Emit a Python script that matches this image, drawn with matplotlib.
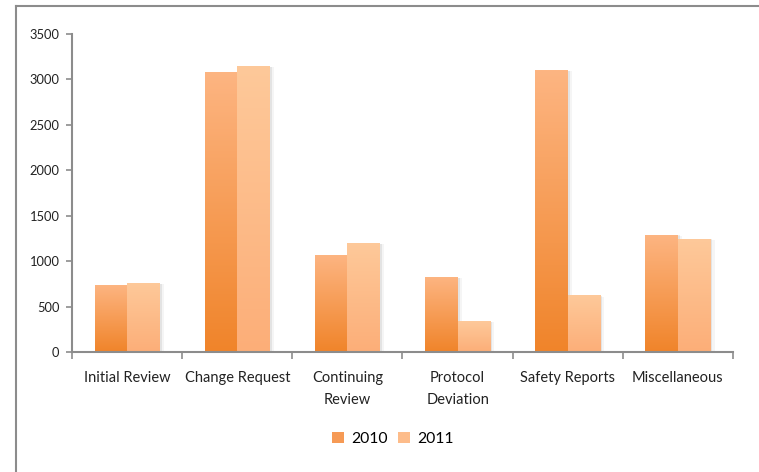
import numpy as np
import matplotlib
matplotlib.use("Agg")
import matplotlib.pyplot as plt
import matplotlib.patheffects as pe
from matplotlib.colors import LinearSegmentedColormap
from matplotlib.patches import Patch
from matplotlib.lines import Line2D

categories = ["Initial Review", "Change Request", "Continuing\nReview",
              "Protocol\nDeviation", "Safety Reports", "Miscellaneous"]
years = ["2010", "2011"]
values_2010 = [740, 3080, 1070, 825, 3100, 1290]
values_2011 = [760, 3145, 1200, 340, 625, 1245]

# bottom colour -> top colour of each bar gradient
grad_2010 = ["#F0842A", "#FDB582"]
grad_2011 = ["#FCAE78", "#FEC99A"]

plt.rcParams["font.family"] = ["Lato", "DejaVu Sans"]

fig = plt.figure(figsize=(7.59, 4.72), dpi=100)
ax = fig.add_axes([0.0949, 0.2542, 0.8708, 0.6744])

x = np.arange(len(categories)) + 0.5
w = 0.295
gray = "#8C8C8C"


def gradient_bars(xpos, vals, cols):
    cmap = LinearSegmentedColormap.from_list("g", cols)
    bars = ax.bar(xpos, vals, w, color=cols[1], zorder=2,
                  path_effects=[pe.SimplePatchShadow(offset=(1.5, -0.5), alpha=0.07, shadow_rgbFace="#000000"),
                                pe.SimplePatchShadow(offset=(3, -1), alpha=0.04, shadow_rgbFace="#000000"),
                                pe.Normal()])
    grad = np.linspace(0, 1, 256).reshape(-1, 1)
    for b in bars:
        x0, y0 = b.get_x(), b.get_y()
        im = ax.imshow(grad, cmap=cmap, origin="lower", aspect="auto",
                       extent=(x0, x0 + b.get_width(), y0, y0 + b.get_height()),
                       zorder=3)
        im.set_clip_path(b)
    return bars


gradient_bars(x - w / 2, values_2010, grad_2010)
gradient_bars(x + w / 2, values_2011, grad_2011)

ax.set_xlim(0, len(categories))
ax.set_ylim(0, 3500)
ax.set_yticks(np.arange(0, 3501, 500))
ax.set_xticks(np.arange(0, len(categories) + 1))
ax.set_xticklabels([])
ax.set_xticks(x, minor=True)
ax.set_xticklabels(categories, minor=True, fontsize=10.5, color="#222222",
                   linespacing=1.7)
ax.tick_params(axis="x", which="minor", length=0, pad=14)
ax.tick_params(axis="x", which="major", direction="out", length=5, width=1.2, color=gray)
ax.tick_params(axis="y", direction="out", length=4, width=1.2, color=gray,
               labelsize=9.3, labelcolor="#222222", pad=5)

for s in ["top", "right"]:
    ax.spines[s].set_visible(False)
for s in ["left", "bottom"]:
    ax.spines[s].set_color(gray)
    ax.spines[s].set_linewidth(1.5)
    ax.spines[s].set_zorder(4)

handles = [Patch(facecolor="#F69A55", edgecolor="none"),
           Patch(facecolor="#FDBC8A", edgecolor="none")]
fig.legend(handles, years, loc="center", bbox_to_anchor=(393 / 759, 1 - 439 / 472),
           ncol=2, frameon=False, fontsize=11.3, handlelength=0.75, handleheight=0.75,
           handletextpad=0.45, columnspacing=0.7)

# outer chart frame (cropped at right and bottom)
fig.add_artist(Line2D([16 / 759, 16 / 759], [-0.1, 1 - 6 / 472],
                      transform=fig.transFigure, color=gray, lw=1.5))
fig.add_artist(Line2D([16 / 759, 1.1], [1 - 6 / 472, 1 - 6 / 472],
                      transform=fig.transFigure, color=gray, lw=1.5))

fig.savefig("out.png", dpi=100)
